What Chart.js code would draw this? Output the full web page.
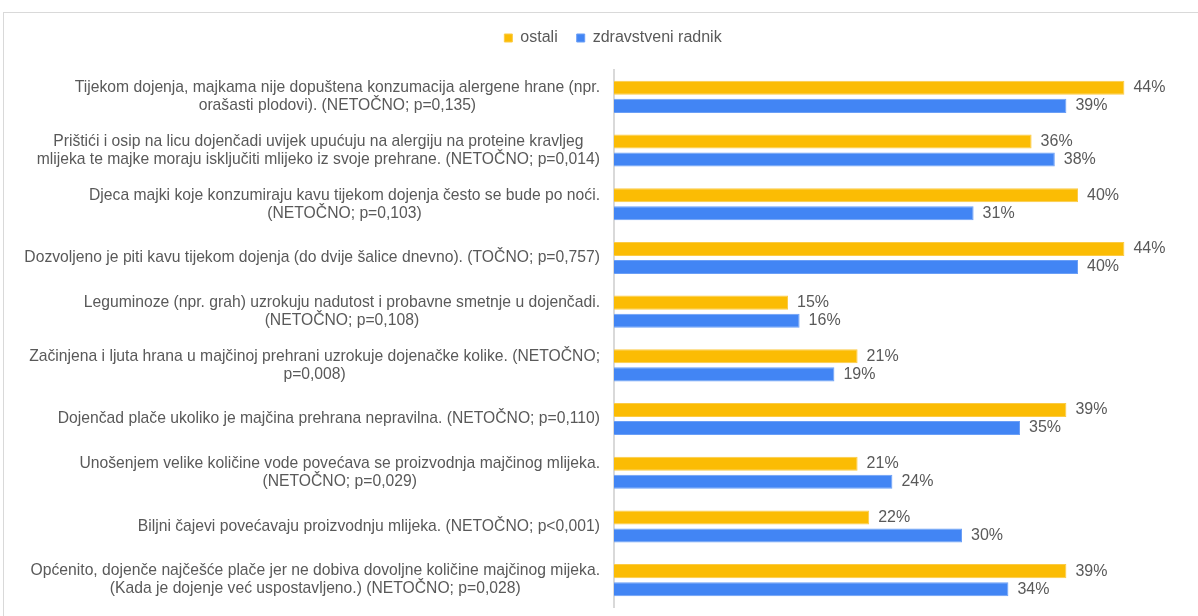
<!DOCTYPE html>
<html>
<head>
<meta charset="utf-8">
<script src="https://cdn.jsdelivr.net/npm/chart.js@4"></script>
<style>
  html, body { margin: 0; padding: 0; background: #fff; }
  #frame { position: absolute; left: 3px; top: 12px; width: 1400px; height: 800px; border: 1px solid #d9d9d9; box-sizing: border-box; }
  #wrap { position: absolute; left: 0; top: 0; width: 1198px; height: 616px; }
</style>
</head>
<body>
<div id="frame"></div>
<div id="wrap"><canvas id="c" width="1198" height="616"></canvas></div>
<script>
const categories = [
  ["Tijekom dojenja, majkama nije dopuštena konzumacija alergene hrane (npr.", "orašasti plodovi). (NETOČNO; p=0,135)"],
  ["Prištići i osip na licu dojenčadi uvijek upućuju na alergiju na proteine kravljeg", "mlijeka te majke moraju isključiti mlijeko iz svoje prehrane. (NETOČNO; p=0,014)"],
  ["Djeca majki koje konzumiraju kavu tijekom dojenja često se bude po noći.", "(NETOČNO; p=0,103)"],
  ["Dozvoljeno je piti kavu tijekom dojenja (do dvije šalice dnevno). (TOČNO; p=0,757)"],
  ["Leguminoze (npr. grah) uzrokuju nadutost i probavne smetnje u dojenčadi.", "(NETOČNO; p=0,108)"],
  ["Začinjena i ljuta hrana u majčinoj prehrani uzrokuje dojenačke kolike. (NETOČNO;", "p=0,008)"],
  ["Dojenčad plače ukoliko je majčina prehrana nepravilna. (NETOČNO; p=0,110)"],
  ["Unošenjem velike količine vode povećava se proizvodnja majčinog mlijeka.", "(NETOČNO; p=0,029)"],
  ["Biljni čajevi povećavaju proizvodnju mlijeka. (NETOČNO; p<0,001)"],
  ["Općenito, dojenče najčešće plače jer ne dobiva dovoljne količine majčinog mijeka.", "(Kada je dojenje već uspostavljeno.) (NETOČNO; p=0,028)"]
];
const seriesNames = ["ostali", "zdravstveni radnik"];
const ostali = [44, 36, 40, 44, 15, 21, 39, 21, 22, 39];
const zdravstveniRadnik = [39, 38, 31, 40, 16, 19, 35, 24, 30, 34];

const TEXT = '#595959';
const FONT = 'Liberation Sans, Arial, sans-serif';
const FS = 16;
const CAT_FS = 15.7;

const legendSpacing = {
  id: 'legendSpacing',
  beforeInit(chart) {
    if (!chart.legend) return;
    const orig = chart.legend.fit;
    chart.legend.fit = function () { orig.call(this); this.height += 14; };
  }
};

const categoryLabels = {
  id: 'categoryLabels',
  afterDraw(chart) {
    const ctx = chart.ctx;
    const y = chart.scales.y;
    const rightX = chart.chartArea.left - 14;
    ctx.save();
    ctx.font = CAT_FS + 'px ' + FONT;
    ctx.fillStyle = TEXT;
    ctx.textAlign = 'center';
    ctx.textBaseline = 'middle';
    const lh = 18;
    categories.forEach((lines, i) => {
      const cy = y.getPixelForTick(i);
      const w = Math.max(...lines.map(l => ctx.measureText(l).width));
      const cx = rightX - w / 2;
      const y0 = cy - (lines.length - 1) * lh / 2;
      lines.forEach((l, k) => ctx.fillText(l, cx, y0 + k * lh));
    });
    ctx.restore();
  }
};

const valueLabels = {
  id: 'valueLabels',
  afterDatasetsDraw(chart) {
    const ctx = chart.ctx;
    ctx.save();
    ctx.font = FS + 'px ' + FONT;
    ctx.fillStyle = TEXT;
    ctx.textAlign = 'left';
    ctx.textBaseline = 'middle';
    chart.data.datasets.forEach((ds, di) => {
      const meta = chart.getDatasetMeta(di);
      meta.data.forEach((bar, i) => {
        ctx.fillText(ds.data[i] + '%', bar.x + 9, bar.y);
      });
    });
    ctx.restore();
  }
};

new Chart(document.getElementById('c'), {
  type: 'bar',
  data: {
    labels: categories.map(l => l.join(' ')),
    datasets: [
      { label: seriesNames[0], data: ostali, backgroundColor: '#FBBC04', borderColor: '#FCCB45', borderWidth: 1,
        categoryPercentage: 0.671, barPercentage: 0.78 },
      { label: seriesNames[1], data: zdravstveniRadnik, backgroundColor: '#4285F4', borderColor: '#6B9FF6', borderWidth: 1,
        categoryPercentage: 0.671, barPercentage: 0.78 }
    ]
  },
  options: {
    indexAxis: 'y',
    responsive: false,
    animation: false,
    layout: { padding: { left: 32, right: 4, top: 11, bottom: 9 } },
    scales: {
      x: { display: false, min: 0, max: 50 },
      y: {
        display: true,
        ticks: { display: false },
        grid: { display: false, drawTicks: false },
        border: { display: true, color: '#d9d9d9', width: 2 },
        afterFit(scale) { scale.width = 582; }
      }
    },
    plugins: {
      tooltip: { enabled: false },
      legend: {
        position: 'top',
        align: 'center',
        labels: {
          boxWidth: 8, boxHeight: 8, padding: 19,
          color: TEXT,
          font: { family: FONT, size: FS }
        }
      }
    }
  },
  plugins: [legendSpacing, categoryLabels, valueLabels]
});
</script>
</body>
</html>
